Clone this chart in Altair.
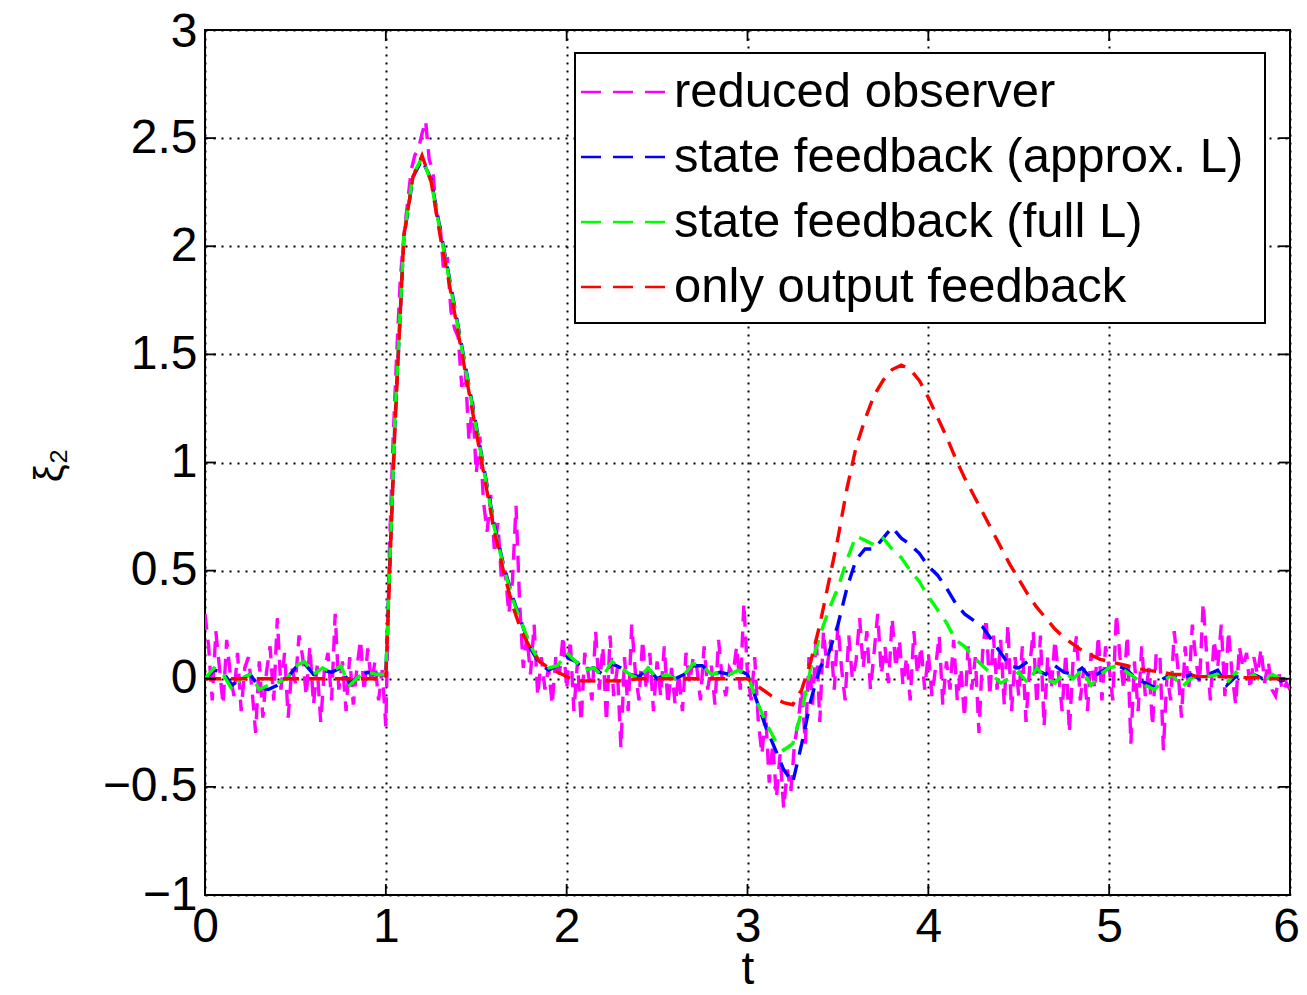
import altair as alt
import pandas as pd
import numpy as np

# ---------------- data ----------------
t_fb = np.round(np.arange(121) * 0.05, 2)     # sample times of the feedback curves
t_obs = np.round(np.arange(301) * 0.02, 2)    # sample times of the observer curve

only_output = [
    0, 0, 0, 0, 0, 0, 0, 0, 0, 0, 0, 0, 0, 0, 0, 0, 0, 0, 0, 0,
    0.0, 1.15, 2.05, 2.32, 2.42, 2.3, 2.05, 1.83, 1.6, 1.37, 1.14, 0.91, 0.68, 0.5, 0.34, 0.22, 0.14, 0.08, 0.05, 0.03,
    0.01, -0.01, -0.01, -0.01, -0.01, -0.01, -0.01, -0.005, 0, 0, 0, 0, 0, 0, 0, 0, 0, 0, 0, 0,
    0.0, -0.03, -0.06, -0.09, -0.11, -0.12, -0.05, 0.08, 0.25, 0.45, 0.65, 0.88, 1.07, 1.2, 1.31, 1.38, 1.43, 1.45, 1.43, 1.38,
    1.3, 1.21, 1.12, 1.02, 0.93, 0.85, 0.77, 0.69, 0.61, 0.53, 0.46, 0.39, 0.33, 0.28, 0.23, 0.19, 0.16, 0.13, 0.11, 0.09,
    0.08, 0.07, 0.06, 0.05, 0.04, 0.035, 0.03, 0.02, 0.02, 0.015, 0.01, 0.01, 0.01, 0.01, 0.01, 0.005, 0.005, 0.005, 0, 0, 0,
]

full_L = [
    0.0, 0.05, 0.02, -0.05, 0.0, 0.02, -0.05, -0.03, -0.02, 0.0, 0.06, 0.08, 0.02, 0.05, 0.03, 0.06, -0.03, 0.01, 0.03, 0.02,
    0.02, 1.2, 2.05, 2.33, 2.41, 2.3, 2.07, 1.85, 1.62, 1.39, 1.16, 0.93, 0.7, 0.52, 0.37, 0.26, 0.15, 0.08, 0.05, 0.06,
    0.12, 0.08, 0.04, 0.05, 0.01, 0.08, 0.05, 0.02, 0.0, 0.05, 0.0, 0.02, 0.0, 0.02, 0.07, 0.06, 0.02, 0.03, 0.02, 0.04,
    0.02, -0.1, -0.2, -0.28, -0.33, -0.3, -0.15, 0.05, 0.2, 0.32, 0.42, 0.55, 0.66, 0.64, 0.62, 0.65, 0.6, 0.56, 0.5, 0.45,
    0.38, 0.32, 0.26, 0.18, 0.15, 0.1, 0.06, 0.02, -0.02, 0.0, 0.03, -0.02, 0.05, 0.0, -0.02, 0.03, 0.0, 0.04, -0.03, 0.02,
    0.05, 0.06, 0.03, 0.0, -0.03, -0.05, -0.01, 0.02, -0.04, 0.0, 0.02, 0.01, 0.02, -0.02, 0.03, 0.0, 0.02, -0.02, 0.02, 0.0, 0.01,
]

approx_L = [
    0.0, 0.04, 0.03, -0.03, 0.0, 0.02, -0.04, -0.05, -0.03, 0.0, 0.05, 0.07, 0.02, 0.04, 0.03, 0.05, -0.02, 0.01, 0.03, 0.02,
    0.02, 1.18, 2.04, 2.32, 2.4, 2.31, 2.08, 1.86, 1.63, 1.4, 1.17, 0.94, 0.71, 0.53, 0.38, 0.26, 0.14, 0.07, 0.04, 0.06,
    0.1, 0.08, 0.04, 0.05, 0.02, 0.07, 0.05, 0.02, 0.01, 0.05, 0.0, 0.02, 0.0, 0.02, 0.06, 0.06, 0.02, 0.03, 0.02, 0.04,
    0.02, -0.1, -0.22, -0.32, -0.42, -0.48, -0.3, -0.1, 0.05, 0.12, 0.25, 0.42, 0.55, 0.6, 0.6, 0.65, 0.7, 0.65, 0.62, 0.58,
    0.52, 0.48, 0.42, 0.35, 0.3, 0.27, 0.24, 0.18, 0.12, 0.06, 0.05, 0.08, 0.04, 0.02, 0.06, 0.03, 0.02, 0.05, 0.0, 0.03,
    0.05, 0.06, 0.04, 0.0, -0.02, -0.04, 0.0, 0.02, 0.0, 0.02, 0.0, 0.02, 0.04, -0.03, 0.01, 0.0, 0.02, 0.0, 0.02, -0.01, 0.0,
]

reduced_obs = [
    0.30, 0.15, -0.10, 0.22, 0.05, -0.12, 0.18, 0.02, -0.08, 0.12,
    -0.15, 0.05, 0.10, -0.05, -0.25, 0.08, -0.18, 0.03, 0.15, -0.10,
    0.28, -0.05, 0.12, -0.18, 0.05, -0.02, 0.20, 0.10, -0.08, 0.15,
    -0.12, 0.06, -0.20, 0.04, 0.12, -0.10, 0.30, -0.05, 0.08, -0.15,
    0.10, -0.12, 0.05, 0.18, -0.06, 0.14, -0.02, 0.08, -0.10, 0.04,
    -0.22, 0.60, 1.10, 1.50, 1.85, 2.05, 2.20, 2.35, 2.42, 2.45,
    2.52, 2.58, 2.40, 2.35, 2.15, 2.10, 1.88, 1.95, 1.70, 1.62,
    1.58, 1.35, 1.42, 1.10, 1.28, 0.95, 1.12, 0.82, 0.68, 0.85,
    0.60, 0.72, 0.45, 0.50, 0.30, 0.45, 0.80, 0.35, 0.05, 0.20,
    0.02, 0.25, -0.08, 0.10, -0.05, 0.05, -0.12, 0.10, 0.02, 0.20,
    -0.05, 0.18, -0.15, 0.08, -0.20, 0.12, 0.02, -0.10, 0.22, -0.05,
    0.15, -0.20, 0.20, -0.08, 0.05, -0.32, 0.10, -0.15, 0.25, 0.03,
    -0.10, 0.18, -0.05, 0.12, -0.15, 0.08, -0.08, 0.15, -0.12, 0.05,
    -0.12, 0.02, -0.15, 0.12, -0.02, 0.10, 0.05, -0.10, 0.15, -0.05,
    0.06, -0.12, 0.18, 0.00, -0.08, 0.05, 0.02, 0.15, -0.05, 0.35,
    0.02, -0.10, 0.10, -0.20, -0.35, -0.15, -0.48, -0.30, -0.55, -0.35,
    -0.60, -0.42, -0.52, -0.30, -0.20, -0.05, -0.30, 0.10, -0.12, 0.20,
    -0.20, 0.22, 0.05, 0.18, -0.05, 0.25, 0.05, -0.10, 0.20, 0.00,
    0.08, 0.28, 0.05, 0.22, -0.05, 0.12, 0.30, 0.02, 0.15, -0.02,
    0.28, 0.05, 0.18, -0.03, 0.10, -0.10, 0.22, 0.02, 0.15, -0.05,
    0.12, -0.08, 0.05, 0.20, -0.12, 0.08, -0.05, 0.18, -0.10, 0.05,
    -0.18, 0.15, -0.05, 0.10, -0.25, 0.12, 0.28, -0.08, 0.20, -0.05,
    0.18, -0.12, 0.25, -0.15, 0.10, -0.08, 0.15, -0.20, 0.05, 0.22,
    -0.12, 0.20, -0.22, 0.10, -0.05, 0.18, 0.02, -0.15, 0.12, -0.25,
    0.08, 0.20, -0.10, 0.05, -0.15, 0.12, -0.05, 0.20, -0.10, 0.15,
    0.05, -0.10, 0.30, 0.10, -0.05, 0.20, -0.30, 0.08, -0.15, 0.15,
    -0.08, 0.05, -0.22, 0.12, 0.12, -0.33, 0.02, -0.10, 0.22, 0.05,
    -0.18, 0.15, -0.05, 0.25, 0.08, -0.02, 0.35, 0.10, -0.10, 0.18,
    0.05, 0.25, -0.08, 0.22, 0.02, -0.12, 0.15, 0.05, 0.12, -0.05,
    0.10, 0.02, 0.14, -0.02, 0.08, -0.05, -0.08, 0.02, -0.06, -0.02,
    -0.05,
]

labels = ["reduced observer", "state feedback (approx. L)",
          "state feedback (full L)", "only output feedback"]
colors = ["#FF00FF", "#0000FF", "#00FF00", "#FF0000"]

x_ticks = [0, 1, 2, 3, 4, 5, 6]
y_ticks = [-1, -0.5, 0, 0.5, 1, 1.5, 2, 2.5, 3]

# ---------------- chart ----------------
W, H = 1085, 865
FONT = "Liberation Sans"

x_scale = alt.Scale(domain=[0, 6], nice=False, zero=False)
y_scale = alt.Scale(domain=[-1, 3], nice=False, zero=False)

x_axis = alt.Axis(title="t", values=x_ticks, format="~g", labelFontSize=48, labelFont=FONT,
                  labelColor="black", labelPadding=8, labelFlush=False, ticks=False, domain=False,
                  labelOffset={"condition": {"test": "datum.value === 6", "value": -4}, "value": 0},
                  grid=True, gridDash=[2, 6], gridColor="black", gridWidth=2, gridOpacity=1,
                  titleFontSize=46, titleFont=FONT, titleFontWeight="normal", titleColor="black",
                  titleY=74, titleBaseline="middle")
y_axis = alt.Axis(title="ξ₂", values=y_ticks, format="~g", labelFontSize=48, labelFont=FONT,
                  labelColor="black", labelPadding=8, labelFlush=False, ticks=False, domain=False,
                  labelOffset={"condition": {"test": "datum.value === 3", "value": 2}, "value": 0},
                  grid=True, gridDash=[2, 6], gridColor="black", gridWidth=2, gridOpacity=1,
                  titleFontSize=40, titleFont=FONT, titleFontWeight="normal", titleColor="black",
                  titleX=-155, titleY=435, titleAngle=-90, titleAlign="center", titleBaseline="middle")


def curve(t, v, color):
    df = pd.DataFrame({"t": t, "v": v})
    return alt.Chart(df).mark_line(color=color, strokeWidth=3.4, strokeDash=[16, 10], clip=True).encode(
        x=alt.X("t:Q", scale=x_scale, axis=x_axis),
        y=alt.Y("v:Q", scale=y_scale, axis=y_axis),
    )


layers = [
    curve(t_obs, reduced_obs, colors[0]),
    curve(t_fb, approx_L, colors[1]),
    curve(t_fb, full_L, colors[2]),
    curve(t_fb, only_output, colors[3]),
]

# inward tick marks on all four sides
ydf = pd.DataFrame({"v": y_ticks})
xdf = pd.DataFrame({"t": x_ticks})
tick_y = alt.Y("v:Q", scale=y_scale, axis=y_axis)
tick_x = alt.X("t:Q", scale=x_scale, axis=x_axis)
layers += [
    alt.Chart(ydf).mark_rule(color="black", strokeWidth=1.8).encode(y=tick_y, x=alt.value(0), x2=alt.value(11)),
    alt.Chart(ydf).mark_rule(color="black", strokeWidth=1.8).encode(y=tick_y, x=alt.value(W - 11), x2=alt.value(W)),
    alt.Chart(xdf).mark_rule(color="black", strokeWidth=1.8).encode(x=tick_x, y=alt.value(0), y2=alt.value(11)),
    alt.Chart(xdf).mark_rule(color="black", strokeWidth=1.8).encode(x=tick_x, y=alt.value(H - 11), y2=alt.value(H)),
]

# legend box
one = pd.DataFrame({"a": [0]})
layers.append(
    alt.Chart(one).mark_rect(fill="white", stroke="black", strokeWidth=2).encode(
        x=alt.value(370), x2=alt.value(1060), y=alt.value(23), y2=alt.value(293))
)
row_y = [62, 127, 192, 257]
for lab, col, yy in zip(labels, colors, row_y):
    ldf = pd.DataFrame({"label": [lab]})
    layers.append(
        alt.Chart(ldf).mark_rule(color=col, strokeWidth=2.5, strokeDash=[20, 12]).encode(
            x=alt.value(376), x2=alt.value(462), y=alt.value(yy))
    )
    layers.append(
        alt.Chart(ldf).mark_text(align="left", baseline="middle", font=FONT, fontSize=49, color="black").encode(
            x=alt.value(469), y=alt.value(yy), text="label:N")
    )

chart = alt.layer(*layers).properties(
    width=W, height=H,
    autosize=alt.AutoSizeParams(type="none"),
    padding={"left": 197, "top": 22, "right": 9, "bottom": 92},
    background="white",
).configure_view(stroke="black", strokeWidth=2)

chart.save("out.html", embed_options={"renderer": "svg", "actions": False})
